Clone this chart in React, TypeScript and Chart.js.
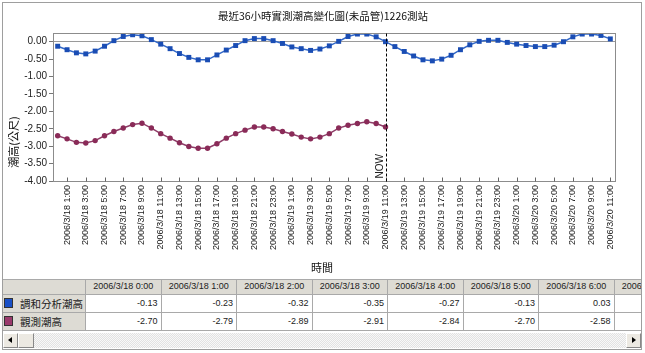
import React, { useEffect, useRef } from "react";
import { Chart, registerables } from "chart.js";

Chart.register(...registerables);

const TITLE = "最近36小時實測潮高變化圖(未品管)1226測站";
const Y_TITLE = "潮高(公尺)";
const X_TITLE = "時間";
const NOW_LABEL = "NOW";
const NOW_INDEX = 35;

const seriesNames = ["調和分析潮高", "觀測潮高"];

const categories = [
  "2006/3/18 0:00", "2006/3/18 1:00", "2006/3/18 2:00", "2006/3/18 3:00", "2006/3/18 4:00", "2006/3/18 5:00",
  "2006/3/18 6:00", "2006/3/18 7:00", "2006/3/18 8:00", "2006/3/18 9:00", "2006/3/18 10:00", "2006/3/18 11:00",
  "2006/3/18 12:00", "2006/3/18 13:00", "2006/3/18 14:00", "2006/3/18 15:00", "2006/3/18 16:00", "2006/3/18 17:00",
  "2006/3/18 18:00", "2006/3/18 19:00", "2006/3/18 20:00", "2006/3/18 21:00", "2006/3/18 22:00", "2006/3/18 23:00",
  "2006/3/19 0:00", "2006/3/19 1:00", "2006/3/19 2:00", "2006/3/19 3:00", "2006/3/19 4:00", "2006/3/19 5:00",
  "2006/3/19 6:00", "2006/3/19 7:00", "2006/3/19 8:00", "2006/3/19 9:00", "2006/3/19 10:00", "2006/3/19 11:00",
  "2006/3/19 12:00", "2006/3/19 13:00", "2006/3/19 14:00", "2006/3/19 15:00", "2006/3/19 16:00", "2006/3/19 17:00",
  "2006/3/19 18:00", "2006/3/19 19:00", "2006/3/19 20:00", "2006/3/19 21:00", "2006/3/19 22:00", "2006/3/19 23:00",
  "2006/3/20 0:00", "2006/3/20 1:00", "2006/3/20 2:00", "2006/3/20 3:00", "2006/3/20 4:00", "2006/3/20 5:00",
  "2006/3/20 6:00", "2006/3/20 7:00", "2006/3/20 8:00", "2006/3/20 9:00", "2006/3/20 10:00", "2006/3/20 11:00",
];

// 調和分析潮高 (harmonic prediction), 60 hourly values
const harmonic = [
  -0.13, -0.23, -0.32, -0.35, -0.27, -0.13, 0.03, 0.15, 0.20, 0.17,
  0.06, -0.07, -0.20, -0.34, -0.45, -0.52, -0.52, -0.38, -0.24, -0.11,
  0.03, 0.09, 0.09, 0.03, -0.05, -0.15, -0.20, -0.25, -0.21, -0.12,
  0.01, 0.15, 0.22, 0.22, 0.14, 0.00, -0.14, -0.28, -0.41, -0.52,
  -0.55, -0.50, -0.39, -0.23, -0.09, 0.01, 0.04, 0.04, -0.02, -0.07,
  -0.11, -0.14, -0.14, -0.10, 0.00, 0.14, 0.22, 0.22, 0.18, 0.08,
];

// 觀測潮高 (observed), 36 hourly values up to NOW
const observed = [
  -2.70, -2.79, -2.89, -2.91, -2.84, -2.70, -2.58, -2.48, -2.38, -2.34,
  -2.48, -2.64, -2.77, -2.90, -3.01, -3.06, -3.06, -2.93, -2.77, -2.64,
  -2.54, -2.45, -2.45, -2.50, -2.58, -2.65, -2.74, -2.79, -2.74, -2.64,
  -2.48, -2.40, -2.35, -2.30, -2.35, -2.45,
];

const yTicks = [0, -0.5, -1, -1.5, -2, -2.5, -3, -3.5, -4];
const Y_MIN = -4;
const Y_MAX = 0.25;

const TABLE_COLUMNS = 8;

const overlayPlugin = {
  id: "overlay",
  afterDraw(chart: any) {
    const { ctx, chartArea: a, scales } = chart;
    const xs = scales.x;
    ctx.save();
    // plot frame
    ctx.strokeStyle = "#8c8c8c";
    ctx.lineWidth = 1;
    const L = Math.round(a.left) + 0.5;
    const T = Math.round(a.top) + 0.5;
    const R = Math.round(a.right) + 0.5;
    const B = Math.round(a.bottom) + 0.5;
    ctx.strokeRect(L, T, R - L, B - T);
    // inward x tick marks on labelled categories
    ctx.strokeStyle = "#666";
    for (let i = 1; i < categories.length; i += 2) {
      const px = Math.round(xs.getPixelForValue(i)) + 0.5;
      ctx.beginPath();
      ctx.moveTo(px, B);
      ctx.lineTo(px, B - 4);
      ctx.stroke();
    }
    // NOW line
    const nx = Math.round(xs.getPixelForValue(NOW_INDEX)) + 0.5;
    ctx.strokeStyle = "#000";
    ctx.setLineDash([3, 2]);
    ctx.beginPath();
    ctx.moveTo(nx, T);
    ctx.lineTo(nx, B);
    ctx.stroke();
    ctx.setLineDash([]);
    // NOW label
    ctx.save();
    ctx.translate(nx - 6, B - 3);
    ctx.rotate(-Math.PI / 2);
    ctx.font = '10px "Liberation Sans", Arial, sans-serif';
    ctx.fillStyle = "#222";
    ctx.textAlign = "left";
    ctx.textBaseline = "middle";
    ctx.fillText(NOW_LABEL, 0, 0);
    ctx.restore();
    // title
    ctx.fillStyle = "#111";
    ctx.font = '10.5px "Noto Sans CJK TC", sans-serif';
    ctx.textAlign = "center";
    ctx.textBaseline = "middle";
    ctx.fillText(TITLE, 323, 16);
    // x axis title
    ctx.font = '11px "Noto Sans CJK TC", sans-serif';
    ctx.fillText(X_TITLE, 322, 268);
    // y axis title
    ctx.save();
    ctx.translate(14, 142);
    ctx.rotate(-Math.PI / 2);
    ctx.fillText(Y_TITLE, 0, 0);
    ctx.restore();
    ctx.restore();
  },
};

export default function App() {
  const ref = useRef<HTMLCanvasElement>(null);

  useEffect(() => {
    const chart = new Chart(ref.current as HTMLCanvasElement, {
      type: "line",
      data: {
        labels: categories,
        datasets: [
          {
            label: seriesNames[0],
            data: harmonic,
            borderColor: "#3268c8",
            backgroundColor: "#1a4db4",
            pointBackgroundColor: "#1a4db4",
            pointBorderColor: "#1a4db4",
            pointBorderWidth: 0,
            pointStyle: "rect",
            pointRadius: 3.5,
            borderWidth: 1.5,
            tension: 0,
          },
          {
            label: seriesNames[1],
            data: observed,
            borderColor: "#8f3d68",
            backgroundColor: "#8a2b58",
            pointBackgroundColor: "#8a2b58",
            pointBorderColor: "#8a2b58",
            pointBorderWidth: 0,
            pointStyle: "circle",
            pointRadius: 2.7,
            borderWidth: 1.5,
            tension: 0,
          },
        ],
      },
      options: {
        animation: false,
        responsive: false,
        devicePixelRatio: 1,
        layout: { padding: { top: 33, right: 30, left: 0, bottom: 0 } },
        plugins: {
          legend: { display: false },
          tooltip: { enabled: false },
          title: { display: false },
        },
        scales: {
          x: {
            type: "category",
            offset: true,
            grid: { display: false, drawTicks: false },
            border: { display: false },
            ticks: {
              autoSkip: false,
              maxRotation: 90,
              minRotation: 90,
              padding: 4,
              color: "#222",
              font: { family: '"Liberation Sans", Arial, sans-serif', size: 9 },
              callback: (_v: any, i: number) => (i % 2 === 1 ? categories[i] : null),
            },
            afterFit: (s: any) => {
              s.height = 97;
            },
          },
          y: {
            min: Y_MIN,
            max: Y_MAX,
            afterBuildTicks: (s: any) => {
              s.ticks = yTicks.map((v) => ({ value: v }));
            },
            grid: {
              color: (c: any) => (c.tick && c.tick.value === 0 ? "#9a9a9a" : "rgba(0,0,0,0)"),
              tickColor: "#777",
              tickLength: 4,
              drawTicks: true,
            },
            border: { display: false },
            ticks: {
              padding: 2,
              color: "#222",
              font: { family: '"Liberation Sans", Arial, sans-serif', size: 10 },
              callback: (v: any) => Number(v).toFixed(2),
            },
            afterFit: (s: any) => {
              s.width = 53;
            },
          },
        },
      },
      plugins: [overlayPlugin],
    } as any);
    return () => chart.destroy();
  }, []);

  const col0 = 86;
  const colW = 75.5;
  const rowTops = [279, 295, 313];
  const rowHeights = [16, 18, 18];
  const gray = "#dddbd4";
  const line = "#a9a9a9";
  const cellBase: React.CSSProperties = {
    position: "absolute",
    boxSizing: "border-box",
    borderRight: `1px solid ${line}`,
    borderBottom: `1px solid ${line}`,
    whiteSpace: "nowrap",
    overflow: "hidden",
    fontFamily: '"Liberation Sans", Arial, sans-serif',
    fontSize: 9,
    color: "#222",
  };
  const legendColors = ["#1a50c6", "#9a3a6c"];
  const rows = [harmonic, observed];

  const cells: React.ReactNode[] = [];
  cells.push(
    <div key="tl" style={{ ...cellBase, left: 0, top: 0, width: col0 - 3, height: rowHeights[0], background: gray }} />
  );
  for (let c = 0; c < TABLE_COLUMNS; c++) {
    cells.push(
      <div
        key={"h" + c}
        style={{
          ...cellBase,
          left: col0 - 3 + c * colW,
          top: 0,
          width: colW,
          height: rowHeights[0],
          background: gray,
          textAlign: "center",
          lineHeight: rowHeights[0] - 1 + "px",
        }}
      >
        {categories[c]}
      </div>
    );
  }
  rows.forEach((vals, r) => {
    const top = rowTops[r + 1] - rowTops[0];
    cells.push(
      <div
        key={"rh" + r}
        style={{
          ...cellBase,
          left: 0,
          top,
          width: col0 - 3,
          height: rowHeights[r + 1],
          background: gray,
          fontFamily: '"Noto Sans CJK TC", sans-serif',
          fontSize: 10.5,
          lineHeight: rowHeights[r + 1] - 1 + "px",
        }}
      >
        <span
          style={{
            position: "absolute",
            left: 1,
            top: 3,
            width: 9,
            height: 10,
            boxSizing: "border-box",
            background: legendColors[r],
            border: "1px solid #333",
          }}
        />
        <span style={{ position: "absolute", left: 17, top: 0 }}>{seriesNames[r]}</span>
      </div>
    );
    for (let c = 0; c < TABLE_COLUMNS; c++) {
      cells.push(
        <div
          key={"c" + r + "_" + c}
          style={{
            ...cellBase,
            left: col0 - 3 + c * colW,
            top,
            width: colW,
            height: rowHeights[r + 1],
            background: "#fff",
            textAlign: "right",
            paddingRight: 3,
            lineHeight: rowHeights[r + 1] - 1 + "px",
          }}
        >
          {vals[c] !== undefined ? vals[c].toFixed(2) : ""}
        </div>
      );
    }
  });

  const btn: React.CSSProperties = {
    position: "absolute",
    top: 0,
    width: 15,
    height: 15,
    boxSizing: "border-box",
    background: "#ece9e2",
    borderTop: "1px solid #fff",
    borderLeft: "1px solid #fff",
    borderRight: "1px solid #888",
    borderBottom: "1px solid #888",
  };

  return (
    <div
      style={{
        position: "fixed",
        left: 0,
        top: 0,
        width: 645,
        height: 353,
        background: "#fff",
        overflow: "hidden",
      }}
    >
      <canvas
        ref={ref}
        width={645}
        height={278}
        style={{ position: "absolute", left: 0, top: 0, width: 645, height: 278, display: "block" }}
      />
      <div
        style={{
          position: "absolute",
          left: 3,
          top: 279,
          width: 638,
          height: 52,
          overflow: "hidden",
          borderTop: `1px solid ${line}`,
          boxSizing: "border-box",
        }}
      >
        <div style={{ position: "absolute", left: 0, top: -1, width: 1000, height: 60 }}>{cells}</div>
      </div>
      <div
        style={{
          position: "absolute",
          left: 3,
          top: 333,
          width: 638,
          height: 15,
          background: "repeating-conic-gradient(#e2e2e2 0% 25%, #f8f8f8 0% 50%) 0 0 / 2px 2px",
        }}
      >
        <div style={{ ...btn, left: 0 }}>
          <div
            style={{
              position: "absolute",
              left: 4,
              top: 3,
              width: 0,
              height: 0,
              borderTop: "3.5px solid transparent",
              borderBottom: "3.5px solid transparent",
              borderRight: "4px solid #000",
            }}
          />
        </div>
        <div style={{ ...btn, left: 15, width: 16 }} />
        <div style={{ ...btn, right: 0 }}>
          <div
            style={{
              position: "absolute",
              left: 5,
              top: 3,
              width: 0,
              height: 0,
              borderTop: "3.5px solid transparent",
              borderBottom: "3.5px solid transparent",
              borderLeft: "4px solid #000",
            }}
          />
        </div>
      </div>
      <div
        style={{
          position: "absolute",
          left: 2,
          top: 2,
          width: 640,
          height: 348,
          boxSizing: "border-box",
          border: "1px solid #9e9e9e",
          pointerEvents: "none",
        }}
      />
    </div>
  );
}
